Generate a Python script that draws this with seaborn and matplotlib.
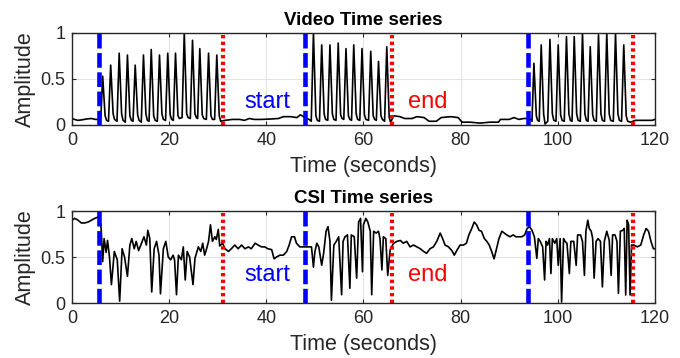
import numpy as np
import pandas as pd
import matplotlib
matplotlib.use("Agg")
import matplotlib.pyplot as plt
import seaborn as sns

# ====== data ======
# video amplitude: each pulse = trough, peak, fall, settle
video_t = [0, 0.5, 1.2, 2.0, 3.0, 4.0, 4.8, 5.4,
           5.9, 6.3, 6.8, 7.1,
           7.5, 7.95, 8.45, 8.75,
           9.25, 9.7, 10.2, 10.5,
           10.95, 11.4, 11.9, 12.2,
           12.55, 13.0, 13.5, 13.8,
           14.25, 14.7, 15.2, 15.5,
           15.85, 16.3, 16.8, 17.1,
           17.55, 18.0, 18.5, 18.8,
           19.25, 19.7, 20.2, 20.5,
           20.85, 21.3, 21.8, 22.1,
           22.65, 23.1, 23.6, 23.9,
           24.35, 24.8, 25.3, 25.6,
           25.85, 26.3, 26.8, 27.1,
           27.65, 28.1, 28.6, 28.9,
           29.35, 29.8, 30.3, 30.6,
           31.5, 33, 34.5, 35.5, 36.5, 37.5, 39, 41, 42.5, 43.5, 45, 46.3, 47, 48, 48.8,
           49.25, 49.7, 50.2, 50.5,
           50.95, 51.4, 51.9, 52.2,
           52.65, 53.1, 53.6, 53.9,
           54.35, 54.8, 55.3, 55.6,
           55.95, 56.4, 56.9, 57.2,
           57.55, 58.0, 58.5, 58.8,
           59.25, 59.7, 60.2, 60.5,
           61.05, 61.5, 62.0, 62.3,
           62.65, 63.1, 63.6, 63.9,
           64.35, 64.8, 65.3, 65.6,
           66.2, 67.5, 68.5, 70, 71, 72.5, 73.5, 75, 76, 78, 79.5, 80.3, 82, 84, 86,
           87.8, 88.2, 90, 91, 92, 93, 94.2,
           94.7, 95.1, 95.6, 95.85,
           96.2, 96.6, 97.1, 97.4,
           97.95, 98.4, 98.9, 99.2,
           99.65, 100.1, 100.6, 100.9,
           101.35, 101.8, 102.3, 102.6,
           102.95, 103.4, 103.9, 104.2,
           104.65, 105.1, 105.6, 105.9,
           106.25, 106.7, 107.2, 107.5,
           107.95, 108.4, 108.9, 109.2,
           109.65, 110.1, 110.6, 110.9,
           111.45, 111.9, 112.4, 112.7,
           113.15, 113.6, 114.1, 114.4,
           115, 116, 118, 119.5, 120]
video_y = [0.07, 0.06, 0.05, 0.055, 0.065, 0.07, 0.06, 0.06,
           0.05, 0.53, 0.10, 0.05,
           0.04, 0.65, 0.12, 0.06,
           0.04, 0.78, 0.12, 0.05,
           0.03, 0.76, 0.10, 0.05,
           0.04, 0.65, 0.11, 0.05,
           0.03, 0.76, 0.12, 0.05,
           0.04, 0.82, 0.10, 0.05,
           0.04, 0.76, 0.12, 0.06,
           0.05, 0.78, 0.11, 0.06,
           0.05, 0.78, 0.10, 0.07,
           0.08, 1.00, 0.12, 0.08,
           0.07, 0.92, 0.12, 0.08,
           0.07, 0.83, 0.11, 0.07,
           0.06, 0.78, 0.10, 0.06,
           0.06, 0.76, 0.10, 0.04,
           0.05, 0.06, 0.06, 0.05, 0.07, 0.06, 0.06, 0.065, 0.07, 0.09, 0.09, 0.08, 0.11, 0.08, 0.06,
           0.04, 1.00, 0.10, 0.05,
           0.04, 0.87, 0.12, 0.06,
           0.05, 0.87, 0.12, 0.06,
           0.05, 0.89, 0.11, 0.07,
           0.06, 0.83, 0.10, 0.06,
           0.05, 0.87, 0.12, 0.06,
           0.05, 0.83, 0.11, 0.06,
           0.05, 0.80, 0.10, 0.06,
           0.05, 0.69, 0.10, 0.06,
           0.04, 0.85, 0.08, 0.03,
           0.10, 0.09, 0.07, 0.07, 0.09, 0.08, 0.04, 0.04, 0.08, 0.09, 0.08, 0.03, 0.03, 0.02, 0.03,
           0.03, 0.06, 0.06, 0.08, 0.06, 0.07, 0.07,
           0.04, 0.67, 0.10, 0.05,
           0.04, 0.87, 0.12, 0.01,
           0.04, 0.93, 0.12, 0.05,
           0.04, 0.87, 0.11, 0.05,
           0.04, 0.96, 0.12, 0.05,
           0.04, 0.96, 0.12, 0.05,
           0.04, 1.00, 0.12, 0.05,
           0.04, 0.85, 0.11, 0.05,
           0.04, 0.98, 0.12, 0.05,
           0.04, 1.00, 0.12, 0.05,
           0.04, 1.00, 0.12, 0.05,
           0.04, 0.87, 0.10, 0.04,
           0.03, 0.05, 0.05, 0.05, 0.06]

csi_t = [0, 0.55, 1.23, 1.9, 2.6, 3.3, 4.0, 4.66, 5.2, 5.6,
         6.0, 6.3, 6.6, 7.0, 7.3, 7.7, 8.1, 8.7, 9.3, 9.8, 10.3, 10.8, 11.4, 11.9, 12.3,
         12.8, 13.2, 13.7, 14.3, 14.8, 15.3, 15.6, 16.0, 16.4, 16.9, 17.4, 17.9, 18.2,
         18.8, 19.3, 19.8, 20.3, 20.8, 21.1, 21.5, 21.9, 22.5, 22.9, 23.3, 23.7, 24.2,
         24.9, 25.3, 25.6, 26.0, 26.5, 26.9, 27.3, 27.7, 28.1, 28.5, 28.9, 29.4, 29.7,
         30.1, 30.4, 31.0, 31.5, 32.2, 32.8, 33.5, 34.2, 34.9, 35.6, 36.3, 36.9, 37.7,
         38.3, 39.0, 39.7, 40.3, 41.1, 41.6, 42.1, 42.8, 43.5, 44.2, 44.7, 45.2, 45.8,
         46.2, 46.9, 47.6, 48.3, 49.3, 49.7, 50.0, 50.4, 50.8, 51.4, 51.8, 52.3, 52.7,
         53.1, 53.4, 53.9, 54.4, 54.9, 55.5, 55.8, 56.2, 56.7, 57.2, 57.5, 58.1, 58.6,
         59.0, 59.4, 59.8, 60.0, 60.5, 60.9, 61.4, 61.7, 62.1, 62.6, 63.1, 63.4, 63.8,
         64.1, 64.6, 65.0, 65.5, 66.2, 66.9, 67.6, 68.2, 68.9, 69.6, 70.3, 71.0, 71.7,
         72.4, 73.0, 73.7, 74.4, 75.1, 75.8, 76.3, 76.8, 77.5, 78.2, 78.7, 79.2, 79.9,
         80.6, 81.2, 81.7, 82.3, 82.8, 83.3, 83.8, 84.3, 84.9, 85.4, 85.9, 86.4, 86.9,
         87.4, 87.9, 88.5, 89.0, 89.5, 90.2, 90.8, 91.4, 92.0, 92.6, 93.2, 93.7, 94.2,
         94.7, 95.2, 95.7, 96.0, 96.4, 96.9, 97.3, 97.6, 97.9, 98.3, 98.6, 98.9, 99.4,
         99.8, 100.1, 100.5, 100.8, 101.2, 101.5, 101.9, 102.4, 102.7, 103.3, 103.8,
         104.1, 104.7, 105.1, 105.5, 105.8, 106.2, 106.5, 106.9, 107.2, 107.5, 107.9,
         108.3, 108.8, 109.2, 109.6, 110.1, 110.6, 111.0, 111.3, 111.8, 112.2, 112.5,
         112.9, 113.4, 113.7, 114.0, 114.3, 114.6, 114.9, 115.2, 115.7, 116.4, 117.1,
         117.7, 118.2, 118.7, 119.2, 119.7, 120]
csi_y = [0.90, 0.92, 0.90, 0.87, 0.87, 0.88, 0.90, 0.92, 0.93, 0.96,
         0.80, 0.45, 0.70, 0.55, 0.68, 0.50, 0.20, 0.56, 0.47, 0.02, 0.59, 0.50, 0.29, 0.63, 0.70,
         0.59, 0.67, 0.57, 0.65, 0.72, 0.63, 0.79, 0.70, 0.12, 0.59, 0.67, 0.52, 0.10,
         0.59, 0.67, 0.50, 0.47, 0.52, 0.47, 0.09, 0.52, 0.47, 0.61, 0.25, 0.56, 0.50,
         0.20, 0.485, 0.54, 0.61, 0.56, 0.65, 0.52, 0.59, 0.67, 0.85, 0.67, 0.72, 0.69,
         0.80, 0.62, 0.65, 0.59, 0.56, 0.59, 0.63, 0.59, 0.63, 0.59, 0.61, 0.59, 0.65,
         0.63, 0.61, 0.61, 0.59, 0.58, 0.48, 0.50, 0.52, 0.52, 0.56, 0.63, 0.72, 0.72,
         0.65, 0.61, 0.61, 0.61, 0.61, 0.39, 0.56, 0.65, 0.61, 0.41, 0.54, 0.78, 0.83,
         0.67, 0.03, 0.63, 0.67, 0.72, 0.09, 0.67, 0.72, 0.74, 0.16, 0.74, 0.72, 0.27,
         0.88, 0.92, 0.34, 0.85, 0.92, 0.88, 0.78, 0.09, 0.78, 0.76, 0.78, 0.70, 0.36,
         0.72, 0.70, 0.30, 0.58, 0.65, 0.67, 0.68, 0.65, 0.67, 0.61, 0.63, 0.61, 0.59,
         0.56, 0.54, 0.59, 0.61, 0.67, 0.76, 0.70, 0.63, 0.61, 0.57, 0.52, 0.57, 0.63,
         0.63, 0.65, 0.74, 0.81, 0.88, 0.85, 0.79, 0.78, 0.70, 0.67, 0.63, 0.56, 0.48,
         0.59, 0.70, 0.78, 0.76, 0.74, 0.72, 0.74, 0.72, 0.72, 0.72, 0.74, 0.81, 0.83,
         0.79, 0.72, 0.485, 0.70, 0.67, 0.61, 0.25, 0.67, 0.63, 0.70, 0.32, 0.70, 0.65,
         0.70, 0.41, 0.70, 0.01, 0.70, 0.67, 0.65, 0.32, 0.67, 0.67, 0.41,
         0.74, 0.74, 0.67, 0.30, 0.78, 0.90, 0.81, 0.78, 0.70, 0.27, 0.67,
         0.70, 0.67, 0.175, 0.67, 0.78, 0.685, 0.30, 0.74, 0.74, 0.67, 0.105,
         0.78, 0.79, 0.81, 0.087, 0.90, 0.85, 0.087, 0.63, 0.63, 0.61, 0.63,
         0.74, 0.81, 0.78, 0.67, 0.59, 0.59]

starts = [5.6, 48.0, 93.8]
ends = [31.0, 65.9, 115.4]

video = pd.DataFrame({"t": video_t, "amp": video_y})
csi = pd.DataFrame({"t": csi_t, "amp": csi_y})

# ====== plotting ======
sns.set_theme(style="whitegrid")
plt.rcParams["font.family"] = ["Liberation Sans", "DejaVu Sans"]

fig = plt.figure(figsize=(6.8, 3.58), dpi=100)
ax1 = fig.add_axes([0.106, 0.651, 0.857, 0.257])
ax2 = fig.add_axes([0.106, 0.1536, 0.857, 0.257])

panels = [(ax1, video, "Video Time series", 0.25), (ax2, csi, "CSI Time series", 0.30)]
for ax, df, title, ty in panels:
    sns.lineplot(data=df, x="t", y="amp", ax=ax, color="black", lw=1.2,
                 estimator=None, sort=False)
    for s in starts:
        ax.axvline(s, color="#0000ff", lw=3.3, ls=(0, (3.2, 1.0)))
    for e in ends:
        ax.axvline(e, color="#ff0000", lw=3, ls=(0, (0.8, 0.8)))
    ax.text(40.3, ty, "start", color="#0000ff", fontsize=17, ha="center", va="center")
    ax.text(73.3, ty, "end", color="#ff0000", fontsize=17, ha="center", va="center")
    ax.set_xlim(0, 120)
    ax.set_ylim(0, 1)
    ax.set_xticks([0, 20, 40, 60, 80, 100, 120])
    ax.set_yticks([0, 0.5, 1])
    ax.set_yticklabels(["0", "0.5", "1"])
    ax.set_facecolor("white")
    ax.grid(True, color="#e3e3e3", lw=0.8)
    for sp in ax.spines.values():
        sp.set_color("#262626")
        sp.set_linewidth(1.0)
    ax.tick_params(direction="in", length=3, width=0.8, colors="#262626",
                   labelsize=13, top=True, right=True, bottom=True, left=True,
                   labelcolor="#262626", pad=5)
    ax.set_xlabel("Time (seconds)", fontsize=15.5, color="#262626", labelpad=5)
    ax.set_ylabel("Amplitude", fontsize=15.5, color="#262626", labelpad=3)
    ax.set_title(title, fontsize=13.5, fontweight="bold", color="black", pad=6)

fig.savefig("out.png", dpi=100)
